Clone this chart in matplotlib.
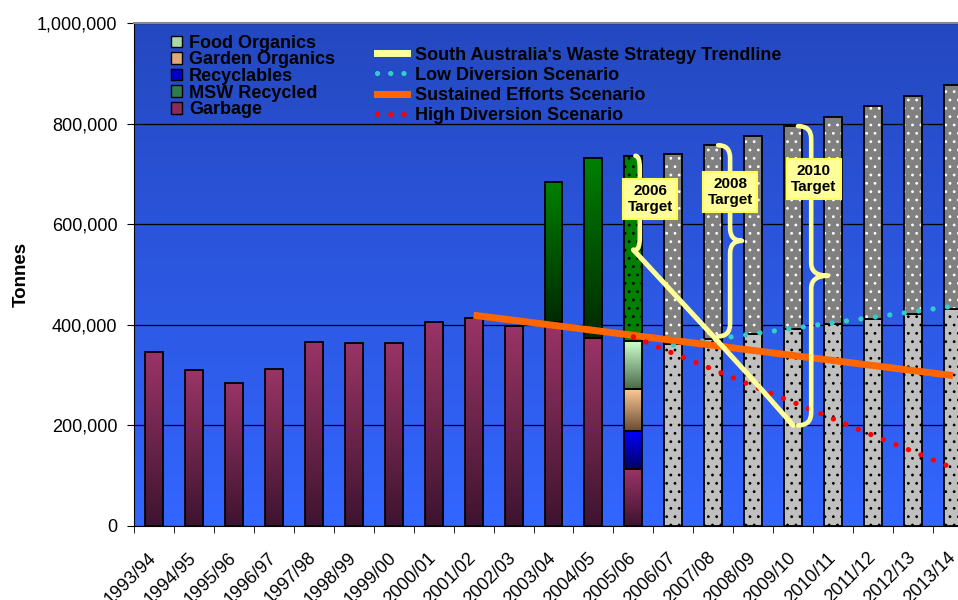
import numpy as np
import matplotlib
matplotlib.use("Agg")
import matplotlib.pyplot as plt
from matplotlib.colors import LinearSegmentedColormap
from matplotlib.patches import Patch, PathPatch
from matplotlib.lines import Line2D
from matplotlib.path import Path
from matplotlib.ticker import FuncFormatter

plt.rcParams['font.family'] = ['Liberation Sans', 'DejaVu Sans']
plt.rcParams['hatch.linewidth'] = 0.8

years = ['1993/94', '1994/95', '1995/96', '1996/97', '1997/98', '1998/99', '1999/00',
         '2000/01', '2001/02', '2002/03', '2003/04', '2004/05', '2005/06', '2006/07',
         '2007/08', '2008/09', '2009/10', '2010/11', '2011/12', '2012/13', '2013/14']

# historical years 1993/94 .. 2005/06
garbage = [345000, 310000, 285000, 313000, 366000, 363000, 364000,
           406000, 414000, 398000, 406000, 373000, 113000]
recyclables = [0] * 12 + [76000]
garden_organics = [0] * 12 + [84000]
food_organics = [0] * 12 + [95000]
msw_recycled = [0] * 10 + [278000, 358000, 368000]

# projections 2006/07 .. 2013/14
proj_lower = [362000, 372000, 382000, 391000, 401000, 411000, 421000, 431000]
proj_total = [740000, 757000, 775000, 795000, 814000, 834000, 855000, 876000]

# scenario lines
low_diversion = [360000, 371000, 382000, 393000, 404000, 415000, 426000, 437000]   # 2006/07 on
high_diversion = [376000, 343000, 311000, 278000, 246000, 213000, 180000, 148000, 115000]  # 2005/06 on
sustained = [419000, 409000, 399000, 389000, 379000, 369000, 359000,
             349000, 339000, 329000, 319000, 309000, 299000]  # 2001/02 on
sa_trend = [549000, 463000, 377000, 290000, 200000]  # 2005/06 .. 2009/10

targets = ['2006\nTarget', '2008\nTarget', '2010\nTarget']

W = 0.45
YELLOW = '#FFFF99'


def grad_bar(ax, x, bottom, height, top_c, bot_c):
    rect = ax.bar(x, height, W, bottom=bottom, facecolor='none',
                  edgecolor='black', linewidth=1.3, zorder=3)[0]
    cmap = LinearSegmentedColormap.from_list('g', [bot_c, top_c])
    im = ax.imshow(np.linspace(0, 1, 64)[:, None], cmap=cmap, origin='lower',
                   extent=(x - W / 2, x + W / 2, bottom, bottom + height),
                   aspect='auto', interpolation='bilinear', zorder=2.5)
    im.set_clip_path(rect)


def brace(ax, x_end, x_stem, y_top, y_bot, x_tip=None):
    ry = 25000
    verts = [(x_end, y_top), (x_stem, y_top), (x_stem, y_top - ry)]
    codes = [Path.MOVETO, Path.CURVE3, Path.CURVE3]
    if x_tip is not None:
        ym = (y_top + y_bot) / 2
        verts += [(x_stem, ym + ry), (x_stem, ym), (x_tip, ym), (x_stem, ym), (x_stem, ym - ry)]
        codes += [Path.LINETO, Path.CURVE3, Path.CURVE3, Path.CURVE3, Path.CURVE3]
    verts += [(x_stem, y_bot + ry), (x_stem, y_bot), (x_end, y_bot)]
    codes += [Path.LINETO, Path.CURVE3, Path.CURVE3]
    ax.add_patch(PathPatch(Path(verts, codes), fill=False, edgecolor=YELLOW,
                           linewidth=3.3, capstyle='round', joinstyle='round', zorder=6))


fig = plt.figure(figsize=(9.58, 6.0), dpi=100)
ax = fig.add_axes([134 / 958, 74 / 600, 839 / 958, 503 / 600])

# background gradient
bg = LinearSegmentedColormap.from_list('bg', ['#3366FF', '#2448C0'])
ax.imshow(np.linspace(0, 1, 128)[:, None], cmap=bg, origin='lower', extent=(0, 1, 0, 1),
          transform=ax.transAxes, aspect='auto', zorder=0)

# historical stacks
n_hist = len(garbage)
for i in range(n_hist):
    bottom = 0
    grad_bar(ax, i, bottom, garbage[i], '#9A3466', '#3E1430')
    bottom += garbage[i]
    for vals, top_c, bot_c in [(recyclables, '#0000FF', '#000066'),
                               (garden_organics, '#FFCC99', '#6B4D33'),
                               (food_organics, '#CCFFCC', '#4A6A4C')]:
        if vals[i]:
            grad_bar(ax, i, bottom, vals[i], top_c, bot_c)
            bottom += vals[i]
    if msw_recycled[i]:
        if i == n_hist - 1:
            ax.bar(i, msw_recycled[i], W, bottom=bottom, color='#008000',
                   edgecolor='black', hatch='..', linewidth=1.3, zorder=3)
        else:
            grad_bar(ax, i, bottom, msw_recycled[i], '#008000', '#002A00')

# projections
xp = np.arange(n_hist, len(years))
upper = np.array(proj_total) - np.array(proj_lower)
ax.bar(xp, proj_lower, W, color='#C0C0C0', edgecolor='black', hatch='..',
       linewidth=1.3, zorder=3)
ax.bar(xp, upper, W, bottom=proj_lower, color='#808080', edgecolor='white',
       hatch='..', linewidth=0, zorder=3)
ax.bar(xp, upper, W, bottom=proj_lower, facecolor='none', edgecolor='black',
       linewidth=1.3, zorder=3.1)

# scenario lines
x_sus = np.arange(len(years) - len(sustained), len(years))
ax.plot(x_sus, sustained, color='#FF6600', linewidth=5, solid_capstyle='butt', zorder=5)
x_high = np.arange(len(years) - len(high_diversion), len(years))
ax.plot(x_high, high_diversion, color='#FF0000', linewidth=3.8,
        linestyle=(0, (0.01, 2.55)), dash_capstyle='round', zorder=5)
ax.plot(xp, low_diversion, color='#33CCCC', linewidth=3.8,
        linestyle=(0, (0.01, 2.75)), dash_capstyle='round', zorder=4.5)
x_sa = np.arange(n_hist - 1, n_hist - 1 + len(sa_trend))
ax.plot(x_sa, sa_trend, color=YELLOW, linewidth=3.6, solid_capstyle='round', zorder=6)

# target braces
i06, i08, i10 = years.index('2005/06'), years.index('2007/08'), years.index('2009/10')
brace(ax, i06 + 0.05, i06 + 0.16, proj_total[0] - 4000, sa_trend[0])
brace(ax, i08 + 0.12, i08 + 0.42, proj_total[1], sa_trend[2], x_tip=i08 + 0.72)
brace(ax, i10 + 0.12, i10 + 0.45, proj_total[3], sa_trend[4], x_tip=i10 + 0.87)

for (tx, ty), label in zip([(i06 + 0.42, 650000), (i08 + 0.42, 664000), (i10 + 0.52, 690000)], targets):
    ax.text(tx, ty, label, ha='center', va='center', fontsize=11, fontweight='bold',
            linespacing=1.25, zorder=7,
            bbox=dict(boxstyle='square,pad=0.3', facecolor=YELLOW, edgecolor='#FFFF55', linewidth=1.5))

# axes styling
ax.set_xlim(-0.5, len(years) - 0.5)
ax.set_ylim(0, 1000000)
ax.set_yticks(np.arange(0, 1000001, 200000))
ax.yaxis.set_major_formatter(FuncFormatter(lambda v, p: f'{v:,.0f}'))
ax.tick_params(axis='y', labelsize=13, length=5, pad=7)
ax.set_xticks(np.arange(len(years)))
ax.set_xticklabels(years, rotation=45, ha='right', va='center', rotation_mode='anchor', fontsize=13)
ax.set_xticks(np.arange(-0.5, len(years)), minor=True)
ax.tick_params(axis='x', which='major', length=0, pad=21)
ax.tick_params(axis='x', which='minor', length=5)
ax.grid(axis='y', color='black', linewidth=0.9, zorder=1)
ax.set_axisbelow(True)
ax.spines['top'].set_color('#888888')
ax.spines['top'].set_linewidth(1.5)
ax.spines['right'].set_visible(False)
ax.set_ylabel('Tonnes', fontsize=13.5, fontweight='bold', labelpad=5)

# legends
stack_handles = [Patch(facecolor='#A8D8A8', edgecolor='black', label='Food Organics'),
                 Patch(facecolor='#E0A878', edgecolor='black', label='Garden Organics'),
                 Patch(facecolor='#0000CC', edgecolor='black', label='Recyclables'),
                 Patch(facecolor='#2E7D4F', edgecolor='black', label='MSW Recycled'),
                 Patch(facecolor='#8A2A55', edgecolor='black', label='Garbage')]
leg1 = ax.legend(handles=stack_handles, loc='upper left', bbox_to_anchor=(0.029, 1.002),
                 frameon=False, prop={'size': 13, 'weight': 'bold'}, handlelength=0.6,
                 handleheight=0.6, handletextpad=0.4, labelspacing=-0.02, borderpad=0.2)
leg1.set_zorder(8)
ax.add_artist(leg1)

line_handles = [Line2D([], [], color=YELLOW, linewidth=5, label="South Australia's Waste Strategy Trendline"),
                Line2D([], [], color='#33CCCC', linewidth=3.8, linestyle=(0, (0.01, 2.5)),
                       dash_capstyle='round', label='Low Diversion Scenario'),
                Line2D([], [], color='#FF6600', linewidth=5, label='Sustained Efforts Scenario'),
                Line2D([], [], color='#FF0000', linewidth=3.8, linestyle=(0, (0.01, 2.5)),
                       dash_capstyle='round', label='High Diversion Scenario')]
leg2 = ax.legend(handles=line_handles, loc='upper left', bbox_to_anchor=(0.275, 0.978),
                 frameon=False, prop={'size': 13, 'weight': 'bold'}, handlelength=1.62,
                 handletextpad=0.45, labelspacing=0.17, borderpad=0.2)
leg2.set_zorder(8)

fig.savefig('out.png', dpi=100)
